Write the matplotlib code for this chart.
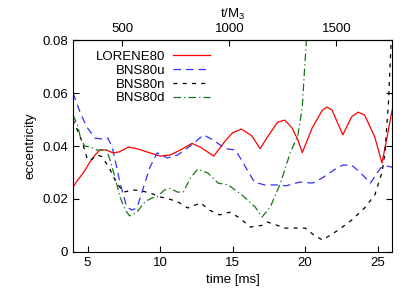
import matplotlib
matplotlib.use("Agg")
import matplotlib.pyplot as plt

plt.rcParams['font.family'] = ['Liberation Sans', 'DejaVu Sans']
plt.rcParams['mathtext.default'] = 'regular'
plt.rcParams['font.size'] = 9.5

# LORENE80
t_lor = [4.0, 4.3, 4.7, 5.17, 5.5, 5.86, 6.3, 6.76, 7.2, 7.8, 8.4, 9.3, 10.0, 10.7, 11.4,
         12.2, 12.8, 13.7, 14.5, 15.0, 15.6, 16.3, 16.9, 17.4, 18.1, 18.6, 19.1, 19.5, 19.8,
         20.5, 21.2, 21.5, 21.85, 22.6, 23.2, 23.65, 24.1, 24.8, 25.3, 25.6, 26.0]
e_lor = [0.0245, 0.027, 0.0298, 0.034, 0.0365, 0.0385, 0.0385, 0.0374, 0.0378, 0.0396, 0.039,
         0.0374, 0.0362, 0.0366, 0.0385, 0.041, 0.0395, 0.0362, 0.042, 0.045, 0.0464, 0.044,
         0.039, 0.0434, 0.049, 0.0498, 0.0468, 0.0423, 0.0375, 0.047, 0.0536, 0.0547, 0.0536,
         0.0442, 0.051, 0.0528, 0.0517, 0.0434, 0.0336, 0.042, 0.0536]

# BNS80u
t_u = [4.0, 4.5, 4.95, 5.5, 6.07, 6.4, 6.7, 6.9, 7.24, 7.7, 8.07, 8.4, 8.8, 9.3, 9.8, 10.5,
       11.2, 11.7, 12.3, 13.0, 13.65, 14.5, 15.2, 15.9, 16.5, 17.2, 18.0, 18.7, 19.65, 20.5,
       21.2, 22.0, 22.6, 23.2, 23.8, 24.5, 25.2, 25.6, 26.0]
e_u = [0.060, 0.0525, 0.0472, 0.043, 0.0426, 0.043, 0.0396, 0.0347, 0.026, 0.017, 0.0158,
       0.0166, 0.0234, 0.032, 0.0374, 0.0355, 0.0366, 0.0385, 0.041, 0.0442, 0.0423, 0.039,
       0.0385, 0.032, 0.0264, 0.0253, 0.0253, 0.025, 0.0264, 0.026, 0.028, 0.031, 0.0328,
       0.0328, 0.030, 0.026, 0.0317, 0.0325, 0.032]

# BNS80n
t_n = [4.0, 4.3, 4.6, 4.8, 5.0, 5.3, 5.65, 6.0, 6.5, 7.0, 7.5, 8.1, 8.6, 9.3, 10.0, 10.6,
       11.2, 11.9, 12.8, 13.4, 14.1, 14.8, 15.5, 16.2, 17.0, 17.4, 18.1, 18.6, 19.5, 20.0,
       20.6, 21.2, 22.3, 23.2, 24.1, 24.8, 25.3, 25.5, 25.75, 25.95]
e_n = [0.050, 0.046, 0.042, 0.0385, 0.0347, 0.035, 0.0366, 0.036, 0.0317, 0.026, 0.0226,
       0.0234, 0.0232, 0.0223, 0.0208, 0.020, 0.019, 0.0166, 0.0185, 0.0158, 0.014, 0.015,
       0.0128, 0.0094, 0.010, 0.0113, 0.010, 0.009, 0.009, 0.009, 0.0064, 0.0045, 0.0083,
       0.012, 0.0166, 0.0215, 0.030, 0.0374, 0.057, 0.082]

# BNS80d
t_d = [4.0, 4.3, 4.5, 4.8, 5.2, 5.65, 6.3, 6.55, 6.9, 7.24, 7.6, 7.9, 8.4, 8.97, 9.45, 9.8,
       10.3, 10.7, 11.2, 11.6, 12.1, 12.6, 13.3, 14.0, 14.7, 15.65, 16.55, 17.03, 17.6, 18.3,
       18.97, 19.5, 19.8, 20.0, 20.15]
e_d = [0.0517, 0.048, 0.0434, 0.040, 0.0396, 0.0385, 0.0385, 0.0347, 0.028, 0.0208, 0.0158,
       0.0136, 0.015, 0.019, 0.0204, 0.0208, 0.0234, 0.024, 0.0226, 0.0226, 0.028, 0.0313,
       0.0298, 0.026, 0.0253, 0.0215, 0.017, 0.0132, 0.017, 0.026, 0.0374, 0.044, 0.0547,
       0.0725, 0.085]

ms_to_M = 67.7  # t/M_3 per ms

fig = plt.figure(figsize=(4.15, 2.95), dpi=100)
ax = fig.add_axes([0.176, 0.146, 0.769, 0.718])

ax.plot(t_lor, e_lor, color='#ff0000', lw=0.9, label='LORENE80')
ax.plot(t_u, e_u, color='#3030ff', lw=0.9, dashes=(6, 4), label='BNS80u')
ax.plot(t_n, e_n, color='black', lw=0.9, dashes=(3.2, 4.2), label='BNS80n')
ax.plot(t_d, e_d, color='#157715', lw=0.9, dashes=(6, 2.5, 1, 2.5), label='BNS80d')

ax.set_xlim(4, 26)
ax.set_ylim(0, 0.08)
ax.set_xticks([5, 10, 15, 20, 25])
ax.set_yticks([0, 0.02, 0.04, 0.06, 0.08])
ax.set_yticklabels(['0', '0.02', '0.04', '0.06', '0.08'])
ax.tick_params(direction='in', length=4, width=0.8, right=True, top=False)
ax.set_xlabel('time [ms]', labelpad=4)
ax.set_ylabel('eccentricity', labelpad=4)

top = ax.secondary_xaxis('top', functions=(lambda t: t * ms_to_M, lambda m: m / ms_to_M))
top.set_xticks([500, 1000, 1500])
top.tick_params(direction='in', length=4, width=0.8)
top.set_xlabel('t/M$_3$', labelpad=4)

ax.legend(loc='upper right', bbox_to_anchor=(0.43, 0.95), frameon=False, markerfirst=False,
          handlelength=2.8, handletextpad=0.6, labelspacing=0.12, borderpad=0, borderaxespad=0)

fig.savefig('out.png', dpi=100)
